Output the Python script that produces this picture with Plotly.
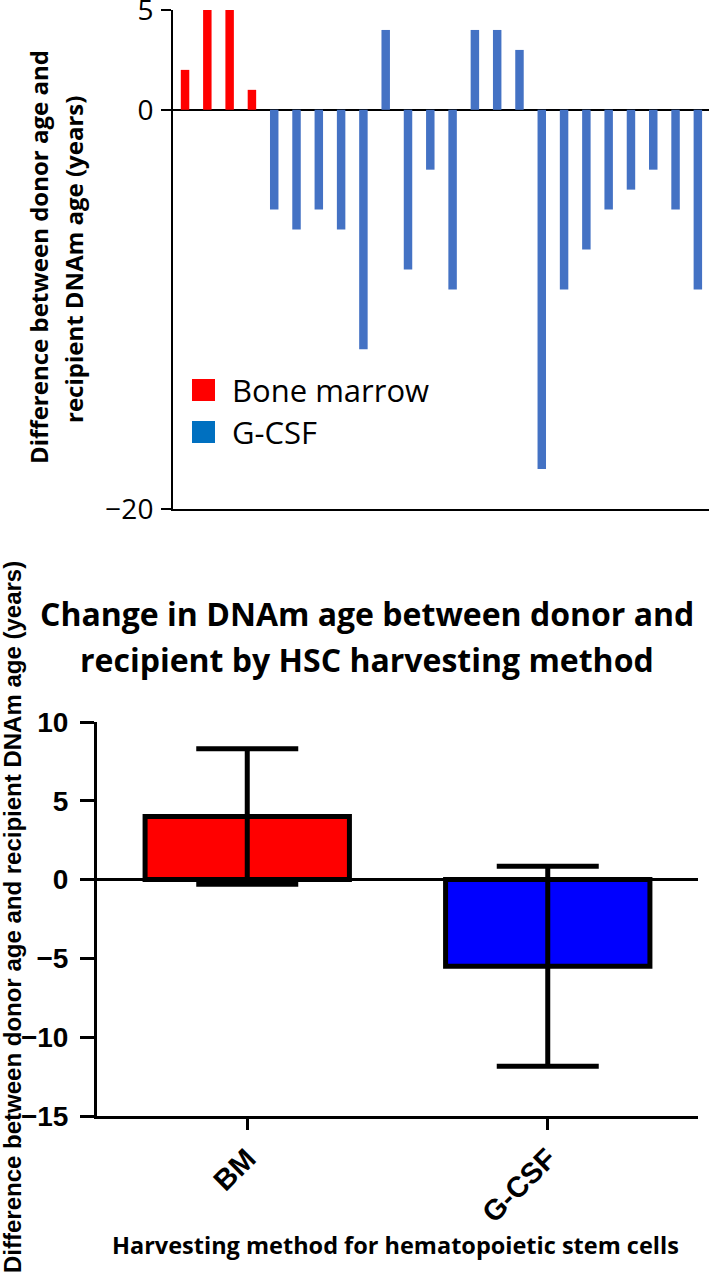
import plotly.graph_objects as go

W, H = 709, 1279

# ---------------- data: top panel (per-patient differences) ----------------
bm_diff = [2, 5, 5, 1]
gcsf_diff = [-5, -6, -5, -6, -12, 4, -8, -3, -9, 4, 4, 3,
             -18, -9, -7, -5, -4, -3, -5, -9]
top_ticks = [5, 0, -20]
legend_labels = ["Bone marrow", "G-CSF"]

# ---------------- data: bottom panel (mean ± SD) ----------------
methods = ["BM", "G-CSF"]
mean_diff = [4.0, -5.5]
sd_diff = [4.3, 6.35]
bottom_ticks = [10, 5, 0, -5, -10, -15]


def px(xp):
    return xp / W


def py(yp):
    return 1 - yp / H


fig = go.Figure()

bm_x = list(range(len(bm_diff)))
gc_x = list(range(len(bm_diff), len(bm_diff) + len(gcsf_diff)))

fig.add_trace(go.Bar(x=bm_x, y=bm_diff, width=0.38, name=legend_labels[0],
                     marker=dict(color="#FF0000", line=dict(width=0)),
                     xaxis="x", yaxis="y", showlegend=False))
fig.add_trace(go.Bar(x=gc_x, y=gcsf_diff, width=0.38, name=legend_labels[1],
                     marker=dict(color="#4472C4", line=dict(width=0)),
                     xaxis="x", yaxis="y", showlegend=False))

fig.add_trace(go.Bar(x=methods, y=mean_diff, width=0.68,
                     marker=dict(color=["#FF0000", "#0000FF"],
                                 line=dict(color="black", width=5)),
                     error_y=dict(type="data", array=sd_diff, visible=True,
                                  color="black", thickness=5, width=51),
                     xaxis="x2", yaxis="y2", showlegend=False))

calibri_like = "Open Sans"
arial_like = "Liberation Sans"

fig.update_layout(
    width=W, height=H, autosize=False,
    margin=dict(l=0, r=0, t=0, b=0),
    paper_bgcolor="white", plot_bgcolor="white",
    template="none",
    barmode="overlay",
    xaxis=dict(domain=[px(173), 1.0], range=[-0.54, 23.5], anchor="y",
               showticklabels=False, ticks="", showgrid=False, zeroline=False,
               showline=True, linecolor="black", linewidth=2),
    yaxis=dict(domain=[py(509), py(10)], range=[-20, 5], anchor="x",
               tickvals=top_ticks, ticks="outside", ticklen=10, tickwidth=2,
               tickcolor="black", showline=True, linecolor="black", linewidth=2,
               showgrid=False, zeroline=True, zerolinecolor="black",
               zerolinewidth=2, ticklabelstandoff=2,
               ticklabeloverflow="allow",
               tickfont=dict(family=calibri_like, size=28, color="black")),
    xaxis2=dict(domain=[px(97), px(698)], range=[-0.5, 1.5], anchor="y2",
                ticks="outside", ticklen=11, tickwidth=3, tickcolor="black",
                showline=True, linecolor="black", linewidth=3, showgrid=False,
                zeroline=False, tickangle=-45,
                tickfont=dict(family=arial_like, size=29, color="black",
                              weight="bold")),
    yaxis2=dict(domain=[py(1116), py(722)], range=[-15, 10], anchor="x2",
                tickvals=bottom_ticks, ticks="outside", ticklen=14, tickwidth=3,
                tickcolor="black", showline=True, linecolor="black", linewidth=3,
                showgrid=False, zeroline=True, zerolinecolor="black",
                zerolinewidth=2.5, ticklabelstandoff=6,
                tickfont=dict(family=arial_like, size=28, color="black",
                              weight="bold")),
)

shapes = [
    dict(type="rect", xref="paper", yref="paper",
         x0=px(192), x1=px(215), y0=py(401), y1=py(379),
         fillcolor="#FF0000", line=dict(width=0)),
    dict(type="rect", xref="paper", yref="paper",
         x0=px(192), x1=px(215), y0=py(443), y1=py(421),
         fillcolor="#0070C0", line=dict(width=0)),
]

ann = []


def add_text(text, xp, yp, size, family, bold=False, angle=0, xanchor="center"):
    ann.append(dict(text=text, xref="paper", yref="paper", x=px(xp), y=py(yp),
                    xanchor=xanchor, yanchor="middle", showarrow=False,
                    textangle=angle,
                    font=dict(family=family, size=size, color="black",
                              weight="bold" if bold else "normal")))


# legend of top panel
add_text(legend_labels[0], 230, 390, 31, calibri_like, xanchor="left")
add_text(legend_labels[1], 230, 432, 31, calibri_like, xanchor="left")

# top panel y-axis title (two lines)
add_text("Difference between donor age and", 38, 257, 24, calibri_like, True, -90)
add_text("recipient DNAm age (years)", 73, 260, 24, calibri_like, True, -90)

# bottom panel title
add_text("Change in DNAm age between donor and", 367, 614, 32, calibri_like, True)
add_text("recipient by HSC harvesting method", 367, 659, 32, calibri_like, True)

# bottom panel axis titles
add_text("Difference between donor age and recipient DNAm age (years)",
         12, 917, 24, arial_like, True, -90)
add_text("Harvesting method for hematopoietic stem cells", 395, 1245, 23.5,
         calibri_like, True)

fig.update_layout(shapes=shapes, annotations=ann)

fig.write_html("out.html", config={"displayModeBar": False},
               post_script="document.body.style.margin='0px';"
                           "document.body.style.overflow='hidden';")
